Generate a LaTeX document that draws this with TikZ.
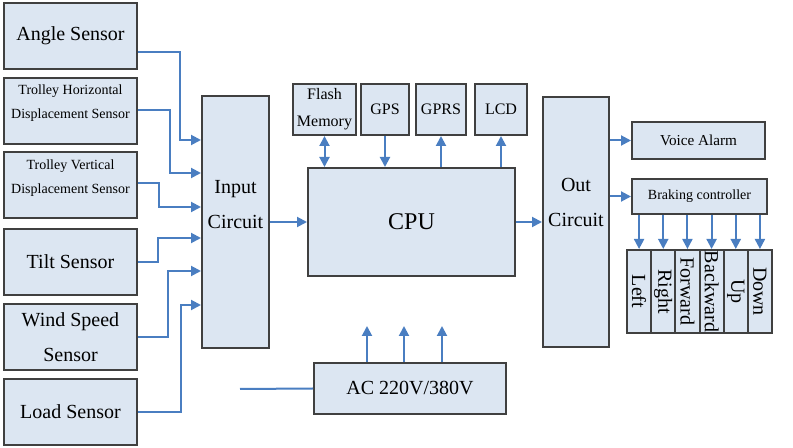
\documentclass[tikz,border=0pt]{standalone}
\usepackage{fontspec}
\setmainfont{Liberation Serif}
\usetikzlibrary{arrows.meta}
\definecolor{boxfill}{RGB}{220,230,242}
\definecolor{boxline}{RGB}{64,64,64}
\definecolor{wireblue}{RGB}{74,126,193}

\begin{document}
\begin{tikzpicture}[x=0.5pt, y=-0.5pt,
  txt/.style={align=center, font=\fontsize{10}{17.5}\selectfont},
  blk/.style={draw=boxline, fill=boxfill, line width=1pt, inner sep=0pt, txt},
  sensor/.style={blk, minimum width=66.5pt, minimum height=33pt},
  small/.style={blk, minimum height=25.5pt, font=\fontsize{8}{13.5}\selectfont},
  strip/.style={blk, minimum width=41.5pt, minimum height=12.08pt},
  wire/.style={draw=wireblue, line width=1pt},
  arr/.style={wire, -{Triangle[length=5pt,width=5pt]}},
  darr/.style={wire, {Triangle[length=5pt,width=5pt]}-{Triangle[length=5pt,width=5pt]}}]
\useasboundingbox (0,0) rectangle (793,448);
%%%%% Sensors %%%%%
\node[sensor] (angle) at (70.5,36) {Angle Sensor};
\node[sensor, label={[txt,font=\fontsize{7}{12}\selectfont,yshift=4pt]center:Trolley Horizontal\\Displacement Sensor}] (thds) at (70.5,111) {};
\node[sensor, label={[txt,font=\fontsize{7}{12}\selectfont,yshift=3.5pt]center:Trolley Vertical\\Displacement Sensor}] (tvds) at (70.5,185.5) {};
\node[sensor] (tilt) at (70.5,262) {Tilt Sensor};
\node[sensor] (wind) at (70.5,337) {Wind Speed\\Sensor};
\node[sensor] (load) at (70.5,412) {Load Sensor};
%%%%% Main blocks %%%%%
\node[blk, minimum width=33.5pt, minimum height=126pt, label={[txt,yshift=8.5pt]center:Input\\Circuit}] (input) at (235.5,222) {};
\node[blk, minimum width=103.5pt, minimum height=54pt, font=\fontsize{12}{14}\selectfont] (cpu) at (411.5,222) {CPU};
\node[blk, minimum width=33pt, minimum height=125pt, label={[txt,yshift=10pt]center:Out\\Circuit}] (out) at (576,222) {};
\node[blk, minimum width=96pt, minimum height=25.5pt] (ac) at (410,388.5) {AC 220V/380V};
%%%%% Peripherals %%%%%
\node[small, minimum width=31.5pt] (flash) at (324.5,109.5) {Flash\\Memory};
\node[small, minimum width=24pt] (gps) at (385,109.5) {GPS};
\node[small, minimum width=25pt] (gprs) at (441,109.5) {GPRS};
\node[small, minimum width=26pt] (lcd) at (501,109.5) {LCD};
\node[blk, minimum width=66.5pt, minimum height=18.5pt, font=\fontsize{7.6}{9}\selectfont] (voice) at (698.5,140.5) {Voice Alarm};
\node[blk, minimum width=67.5pt, minimum height=17.5pt, font=\fontsize{7}{9}\selectfont] (brake) at (699.5,196.5) {Braking controller};
%%%%% Sensor wires %%%%%
\draw[arr] (angle.east |- 0,52) -| (180,140) -- (input.west |- 0,140);
\draw[arr] (thds.east |- 0,110) -| (170,173) -- (input.west |- 0,173);
\draw[arr] (tvds.east |- 0,183) -| (159,207) -- (input.west |- 0,207);
\draw[arr] (tilt.east |- 0,262) -| (158,238) -- (input.west |- 0,238);
\draw[arr] (wind.east |- 0,337) -| (168,271) -- (input.west |- 0,271);
\draw[arr] (load.east |- 0,412) -| (181,305) -- (input.west |- 0,305);
%%%%% CPU wires %%%%%
\draw[arr] (input.east) -- (cpu.west);
\draw[arr] (cpu.east) -- (out.west);
\draw[darr] (flash.south) -- (cpu.north -| flash.south);
\draw[arr] (gps.south) -- (cpu.north -| gps.south);
\draw[arr] (cpu.north -| gprs.south) -- (gprs.south);
\draw[arr] (cpu.north -| lcd.south) -- (lcd.south);
\draw[arr] (out.east |- voice.west) -- (voice.west);
\draw[arr] (out.east |- brake.west) -- (brake.west);
%%%%% Power %%%%%
\coordinate (mains) at (240,389);
\draw[wire] (mains) -- (ac.west);
\foreach \x in {367,404,442}{
\draw[arr] (ac.north -| \x,0) -- ++(0,-36);
}
%%%%% Directions %%%%%
\foreach \lbl [count=\i] in {Left,Right,Forward,Backward,Up,Down}{
\node[strip, rotate=-90] (dir\i) at ({627+24.17*(\i-0.5)},291.5) {\lbl};
\draw[arr] (brake.south -| dir\i.west) -- (dir\i.west);
}
\end{tikzpicture}
\end{document}
